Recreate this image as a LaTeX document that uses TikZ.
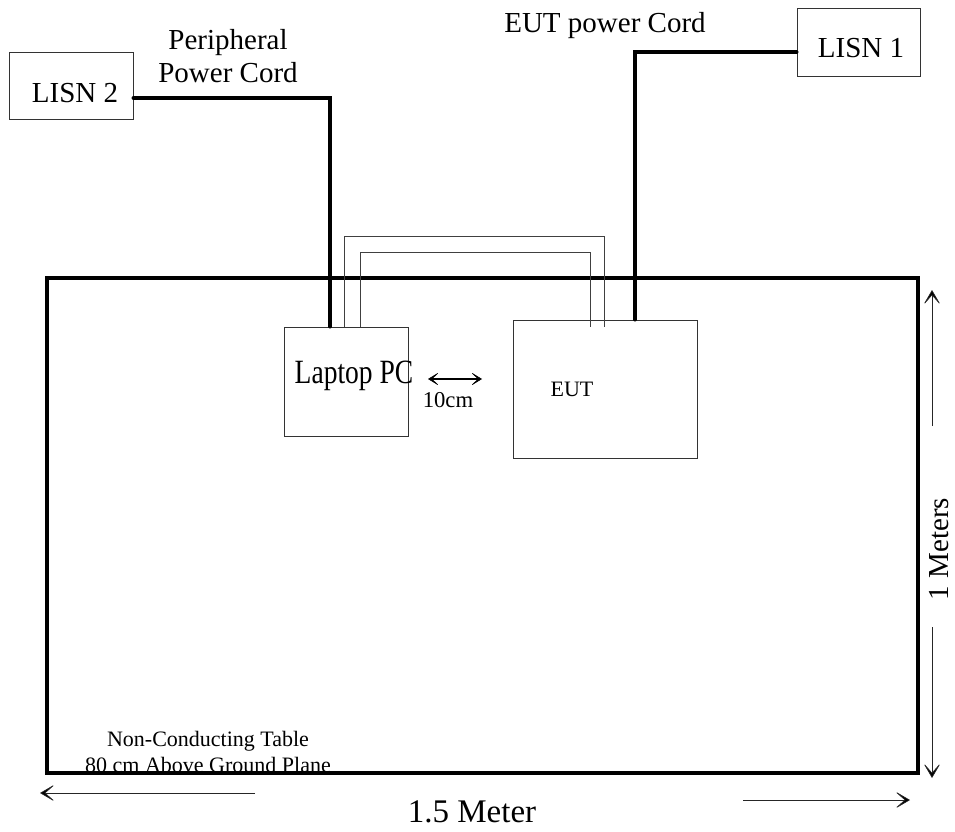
\documentclass[tikz,border=0pt]{standalone}
\usepackage{fontspec}
\setmainfont{Liberation Serif}
\usetikzlibrary{arrows.meta,calc}
\begin{document}
\begin{tikzpicture}[x=0.75pt,y=-0.75pt,
  box/.style={draw=black!80,line width=0.75pt,inner sep=0pt},
  tablebox/.style={draw=black,line width=2.4pt,inner sep=0pt},
  cord/.style={line width=3pt,line cap=round},
  cable/.style={draw=black!75,line width=0.7pt},
  dim/.style={draw=black!85,line width=0.75pt,-{Stealth[length=12pt,width=14pt,inset=8pt,fill=black,line width=0.5pt]}},
  spacing/.style={draw=black,line width=0.8pt,{Stealth[length=9pt,width=11pt,inset=6pt,fill=black,line width=0.4pt]}-{Stealth[length=9pt,width=11pt,inset=6pt,fill=black,line width=0.4pt]}},
  txtL/.style={font=\fontsize{21.75pt}{24pt}\selectfont,inner sep=0pt,anchor=base},
  txtM/.style={font=\fontsize{16.5pt}{18pt}\selectfont,inner sep=0pt,anchor=base},
  txtXL/.style={font=\fontsize{24.75pt}{28pt}\selectfont,inner sep=0pt,anchor=base}
]
\useasboundingbox (0,0) rectangle (955,831);

% boxes
\node[tablebox,minimum width=653.25pt,minimum height=371.25pt] (table) at (482.5,525.5) {};
\node[box,minimum width=93pt,minimum height=50.25pt] (lisn2) at (71,86.5) {};
\node[box,minimum width=92.25pt,minimum height=51pt] (lisn1) at (858.5,43) {};
\node[box,minimum width=93pt,minimum height=81.75pt] (laptop) at (346,381.5) {};
\node[box,minimum width=138pt,minimum height=103.5pt] (eut) at (605,389) {};

% texts
\node[txtL] (t2) at (75,103) {LISN 2};
\node[txtL] (t1) at (861,58) {LISN 1};
\node[txtL,font=\fontsize{25.5pt}{28pt}\selectfont] (tlap) at (354,383) {\scalebox{0.81}[1]{Laptop PC}};
\node[txtM] (teut) at (572,396) {EUT};
\node[txtL] (per1) at (228,50) {Peripheral};
\node[txtL] (per2) at (228,83) {Power Cord};
\node[txtL] (eutc) at (605,33) {EUT power Cord};
\node[txtM,font=\fontsize{17pt}{19pt}\selectfont] (tcm) at (448,407) {10cm};
\node[txtM] (nc1) at (208,746) {Non-Conducting Table};
\node[txtM] (nc2) at (208,772) {80 cm Above Ground Plane};
\node[txtXL] (meter) at (472,822) {1.5 Meter};
\node[txtL,rotate=90] (meters) at (948,549) {1 Meters};

% power cords
\draw[cord] (lisn2.east |- 0,98) -| (laptop.north -| 330,0);
\draw[cord] (eut.north -| 635,0) |- (lisn1.west |- 0,52);

% signal cables
\draw[cable] (laptop.north -| 344,0) -- (344,236) -- (604,236) -- ($(eut.north -| 604,0)+(0,7)$);
\draw[cable] (laptop.north -| 360,0) -- (360,252) -- (590,252) -- ($(eut.north -| 590,0)+(0,7)$);

% 10 cm spacing
\coordinate (s1) at (428,379);
\coordinate (s2) at (482,379);
\draw[spacing] (s1) -- (s2);

% dimension arrows
\coordinate (v1) at (932,426);
\coordinate (v1t) at (932,290);
\coordinate (v2) at (932,627);
\coordinate (v2t) at (932,778);
\coordinate (h1) at (255,793);
\coordinate (h1t) at (40,793);
\coordinate (h2) at (743,800);
\coordinate (h2t) at (910,800);
\draw[dim] (v1) -- (v1t);
\draw[dim] (v2) -- (v2t);
\draw[dim] (h1) -- (h1t);
\draw[dim] (h2) -- (h2t);
\end{tikzpicture}
\end{document}
